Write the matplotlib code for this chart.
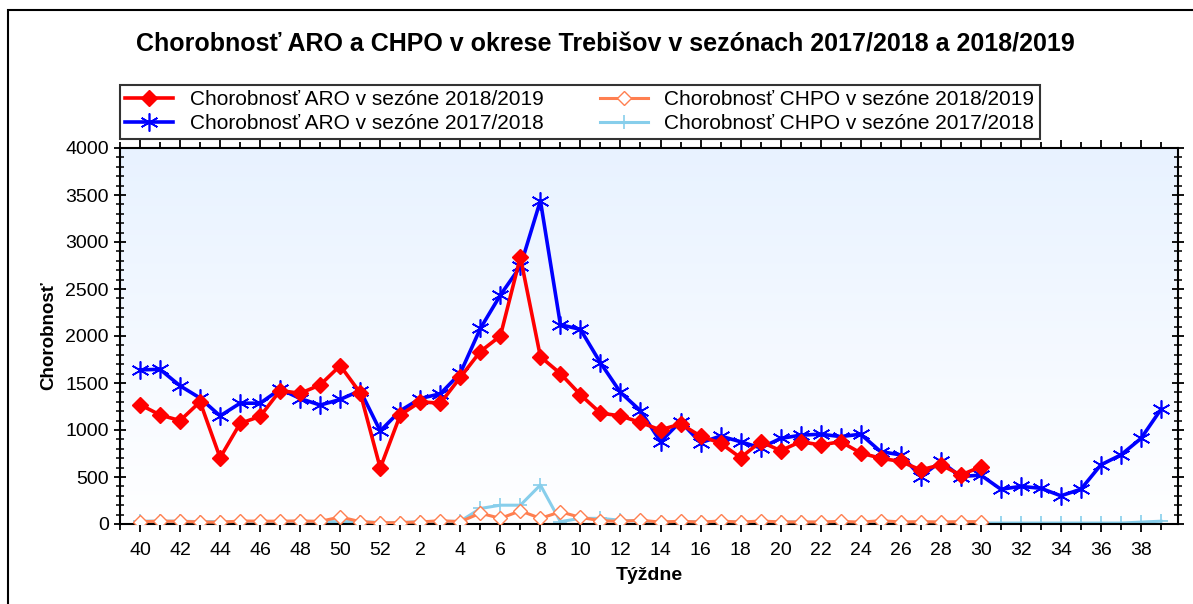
import matplotlib
matplotlib.use("Agg")
import matplotlib.pyplot as plt
from matplotlib.ticker import MultipleLocator
from matplotlib.patches import Rectangle
import numpy as np

plt.rcParams['font.family'] = ['Liberation Sans', 'DejaVu Sans']

weeks = [40, 41, 42, 43, 44, 45, 46, 47, 48, 49, 50, 51, 52] + list(range(1, 40))

aro_1819 = [1270, 1160, 1100, 1300, 705, 1070, 1145, 1420, 1390, 1480, 1685, 1395, 595,
            1160, 1300, 1285, 1560, 1835, 2000, 2840, 1780, 1600, 1375, 1180, 1150, 1080,
            1000, 1065, 935, 860, 705, 876, 780, 876, 840, 876, 755, 700, 665, 575, 630,
            520, 610]
aro_1718 = [1640, 1645, 1470, 1340, 1150, 1285, 1285, 1435, 1335, 1265, 1325, 1420, 990,
            1205, 1335, 1385, 1605, 2080, 2435, 2740, 3440, 2120, 2070, 1715, 1400, 1205,
            875, 1090, 865, 935, 875, 810, 910, 945, 955, 930, 955, 770, 735, 505, 665,
            505, 520, 370, 400, 380, 300, 370, 630, 735, 910, 1220]
chpo_1819 = [25, 30, 28, 22, 18, 32, 30, 30, 32, 28, 75, 25, 12,
             15, 22, 35, 25, 115, 60, 140, 60, 130, 70, 35, 28, 40,
             20, 30, 20, 32, 20, 32, 22, 22, 22, 28, 20, 35, 22, 25, 22,
             25, 25]
chpo_1718 = [30, 30, 30, 25, 25, 25, 25, 25, 30, 25, 25, 25, 15,
             15, 25, 25, 30, 165, 200, 200, 415, 25, 60, 60, 40, 30,
             20, 25, 25, 20, 25, 20, 25, 20, 15, 15, 15, 15, 15, 10, 10,
             10, 10, 10, 10, 10, 10, 10, 10, 10, 20, 30]

x_all = np.arange(len(weeks))
x_1819 = x_all[:len(aro_1819)]

fig = plt.figure(figsize=(11.93, 6.04), dpi=100)
ax = fig.add_axes([120 / 1193, 80 / 604, 1058 / 1193, 376 / 604])

# light blue -> white background
grad = np.linspace(1, 0, 256).reshape(-1, 1)
top = np.array([232, 242, 255]) / 255
bg = grad[..., None] * top + (1 - grad[..., None]) * np.array([1, 1, 1])
ax.imshow(bg, extent=[0, 1, 0, 1], transform=ax.transAxes, aspect='auto', zorder=0)

snow = (6, 2, 0)
l1, = ax.plot(x_1819, aro_1819, color='#ff0000', lw=2.6, marker='D', ms=8,
              mec='#ff0000', zorder=5, label='Chorobnosť ARO v sezóne 2018/2019')
l2, = ax.plot(x_all, aro_1718, color='#0000ff', lw=2.6, marker=snow, ms=13,
              mew=1.2, zorder=4, label='Chorobnosť ARO v sezóne 2017/2018')
l3, = ax.plot(x_1819, chpo_1819, color='#ff7f50', lw=2.2, marker='D', ms=7,
              mfc='white', mec='#ff7f50', mew=1.0, zorder=3,
              label='Chorobnosť CHPO v sezóne 2018/2019')
l4, = ax.plot(x_all, chpo_1718, color='#87ceeb', lw=2.2, marker='+', ms=10,
              mew=1.2, zorder=2, label='Chorobnosť CHPO v sezóne 2017/2018')

ax.set_xlim(-1, 51.85)
ax.set_ylim(0, 4000)
ax.set_xticks(x_all[::2])
ax.set_xticklabels([str(w) for w in weeks[::2]])
ax.xaxis.set_minor_locator(MultipleLocator(1))
ax.yaxis.set_major_locator(MultipleLocator(500))
ax.yaxis.set_minor_locator(MultipleLocator(100))

ax.tick_params(axis='both', which='major', labelsize=14, width=1.3)
ax.tick_params(axis='x', which='major', direction='out', length=6, top=True, pad=7)
ax.tick_params(axis='x', which='minor', direction='out', length=4, width=1.3, top=True)
ax.tick_params(axis='y', which='major', direction='inout', length=9, right=True)
ax.tick_params(axis='y', which='minor', direction='inout', length=6, width=1.1, right=True)
for s in ax.spines.values():
    s.set_linewidth(1.5)

ax.set_xlabel('Týždne', fontsize=14, fontweight='bold', labelpad=6)
ax.set_ylabel('Chorobnosť', fontsize=13.5, fontweight='bold', labelpad=6)

fig.text(605 / 1193, 1 - 44 / 604, 'Chorobnosť ARO a CHPO v okrese Trebišov v sezónach 2017/2018 a 2018/2019',
         ha='center', va='center', fontsize=18, fontweight='bold')

leg = fig.legend(handles=[l1, l2, l3, l4], ncol=2, loc='upper left',
                 bbox_to_anchor=(120 / 1193, 1 - 85 / 604), borderaxespad=0, fontsize=15,
                 frameon=True, fancybox=False, edgecolor='black', handlelength=2.3,
                 columnspacing=2.7, borderpad=0.25, labelspacing=0.25, handletextpad=0.8)
leg.get_frame().set_linewidth(1.5)

fig.patches.append(Rectangle((8 / 1193, -0.1), 1.2, 1.1 - 10 / 604, transform=fig.transFigure,
                             fill=False, edgecolor='black', lw=1.5))

fig.savefig('out.png', dpi=100)
